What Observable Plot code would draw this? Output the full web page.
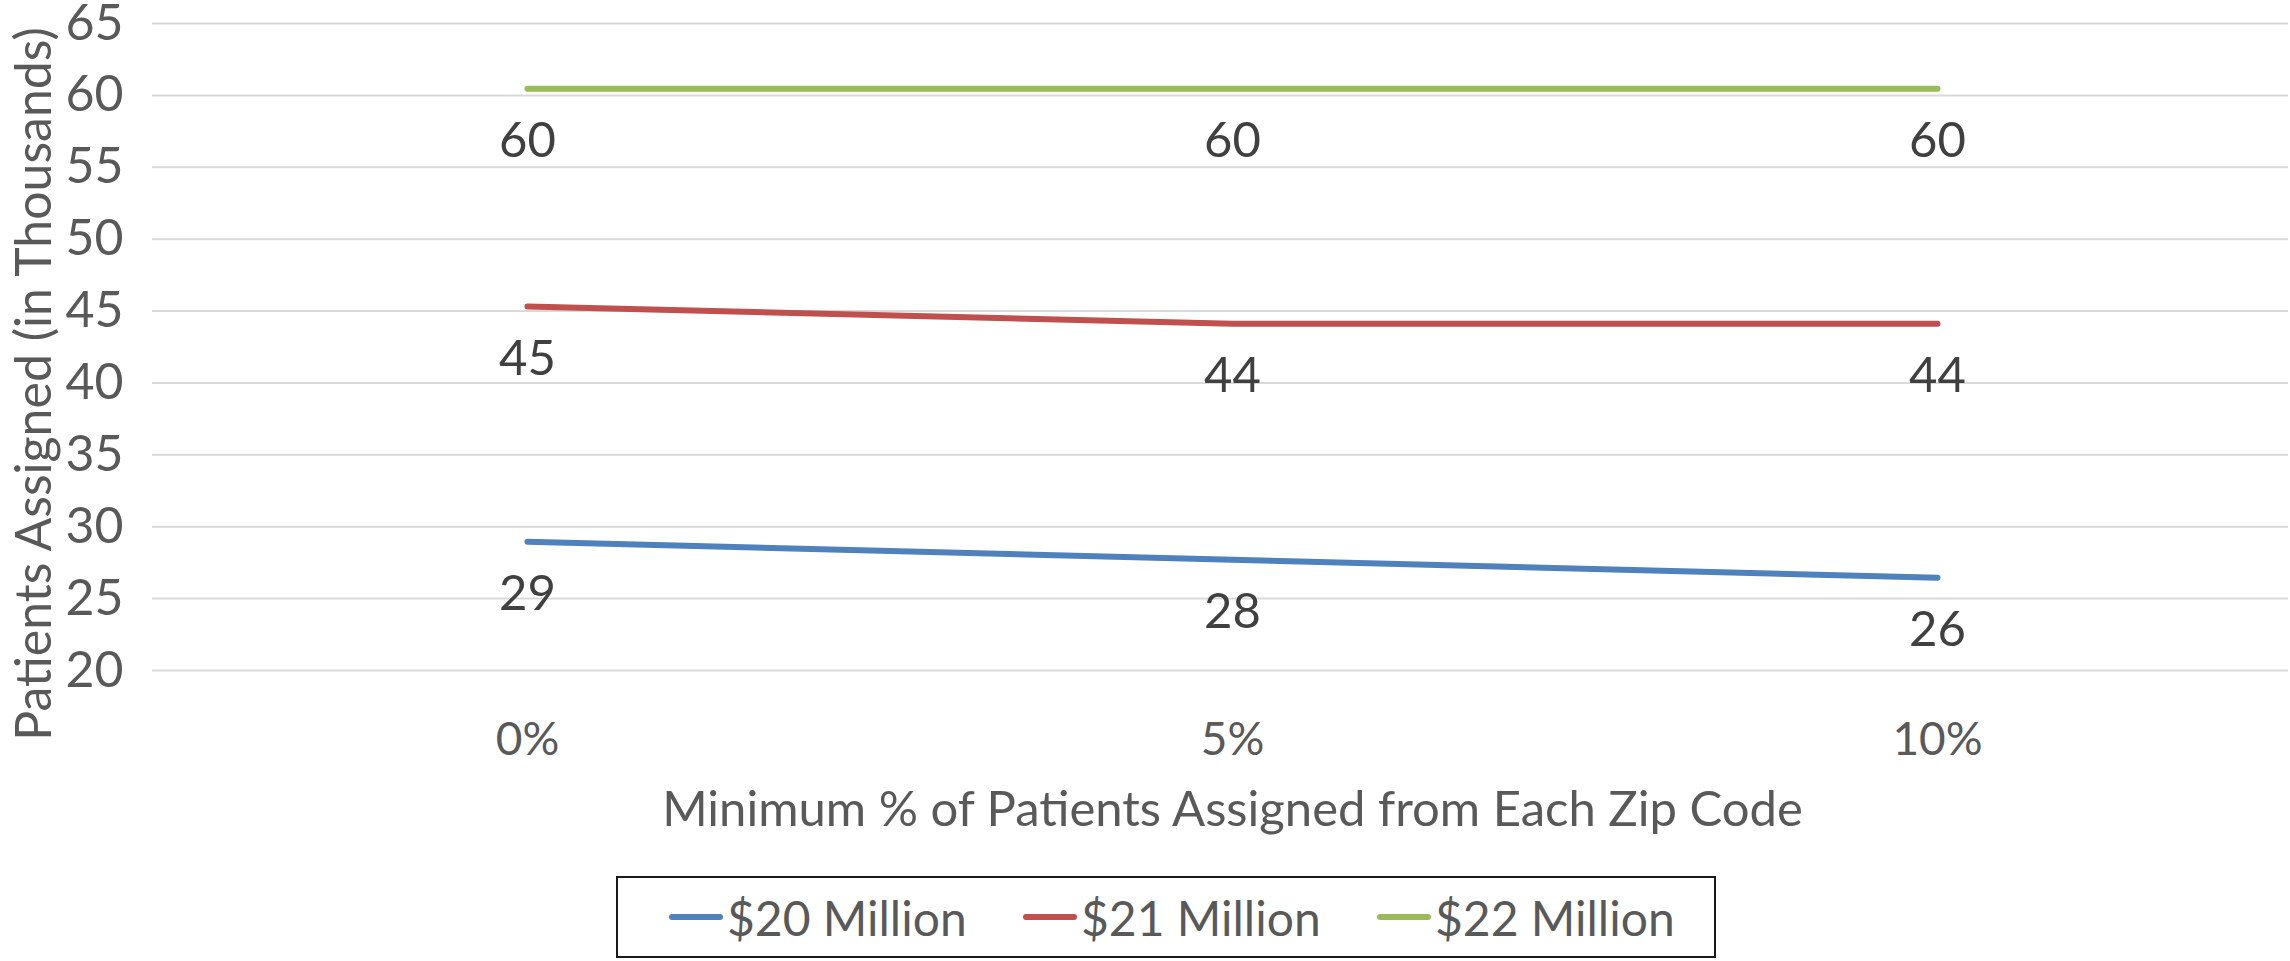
<!DOCTYPE html>
<html>
<head>
<meta charset="utf-8">
<script src="https://cdn.jsdelivr.net/npm/d3@7"></script>
<script src="https://cdn.jsdelivr.net/npm/@observablehq/plot@0.6"></script>
<style>
  html, body { margin: 0; padding: 0; background: #fff; }
  #chart svg { display: block; }
  #legend {
    box-sizing: border-box;
    margin-left: 616px;
    width: 1100px;
    height: 82px;
    border: 2px solid #1a1a1a;
    display: flex;
    align-items: center;
    font-family: Lato, sans-serif;
    font-size: 48px;
    color: #595959;
  }
  .item { display: flex; align-items: center; position: absolute; }
  .sw { width: 54px; height: 6px; border-radius: 3px; margin-right: 4px; }
</style>
</head>
<body>
<div id="chart"></div>
<div id="legend"></div>
<script>
const categories = ["0%", "5%", "10%"];
const seriesNames = ["$20 Million", "$21 Million", "$22 Million"];
const values20 = [28.96, 27.7, 26.45];
const values21 = [45.32, 44.12, 44.12];
const values22 = [60.46, 60.46, 60.46];
const yTicks = [20, 25, 30, 35, 40, 45, 50, 55, 60, 65];
const colors = ["#4F81BD", "#C0504D", "#9BBB59"];
const xTitle = "Minimum % of Patients Assigned from Each Zip Code";
const yTitle = "Patients Assigned (in Thousands)";

const seriesValues = [values20, values21, values22];
const rows = [];
seriesNames.forEach((s, i) => {
  categories.forEach((c, j) => rows.push({series: s, cat: c, value: seriesValues[i][j]}));
});

const chart = Plot.plot({
  width: 2290,
  height: 876,
  marginLeft: 152,
  marginRight: 2,
  marginTop: 23,
  marginBottom: 206,
  style: {fontFamily: "Lato, sans-serif", background: "#fff"},
  x: {type: "point", domain: categories, padding: 0.513, align: 0.517, axis: null},
  y: {domain: [20, 65], axis: null},
  color: {domain: seriesNames, range: colors},
  marks: [
    Plot.gridY(yTicks, {stroke: "#D9D9D9", strokeOpacity: 1, strokeWidth: 2}),
    Plot.axisY(yTicks, {tickSize: 0, tickPadding: 29, fontSize: 50, color: "#595959", label: null}),
    Plot.axisX({tickSize: 0, tickPadding: 52, fontSize: 46, color: "#595959", label: null}),
    Plot.lineY(rows, {x: "cat", y: "value", z: "series", stroke: "series", strokeWidth: 6, strokeLinecap: "round", strokeLinejoin: "round"}),
    Plot.text(rows, {x: "cat", y: "value", text: d => String(Math.round(d.value)), dy: 53, fontSize: 49, fill: "#404040"}),
    Plot.text([xTitle], {x: () => categories[1], frameAnchor: "bottom", dy: 155, fontSize: 49, fill: "#595959"}),
    Plot.text([yTitle], {frameAnchor: "left", textAnchor: "middle", dx: -118, dy: 37, rotate: -90, fontSize: 50, fill: "#595959"})
  ]
});
document.getElementById("chart").appendChild(chart);

const legend = document.getElementById("legend");
const itemLeft = [53, 407, 761];
seriesNames.forEach((s, i) => {
  const item = document.createElement("div");
  item.className = "item";
  item.style.left = (616 + itemLeft[i]) + "px";
  const sw = document.createElement("span");
  sw.className = "sw";
  sw.style.background = colors[i];
  const t = document.createElement("span");
  t.textContent = s;
  item.appendChild(sw);
  item.appendChild(t);
  legend.appendChild(item);
});
</script>
</body>
</html>
